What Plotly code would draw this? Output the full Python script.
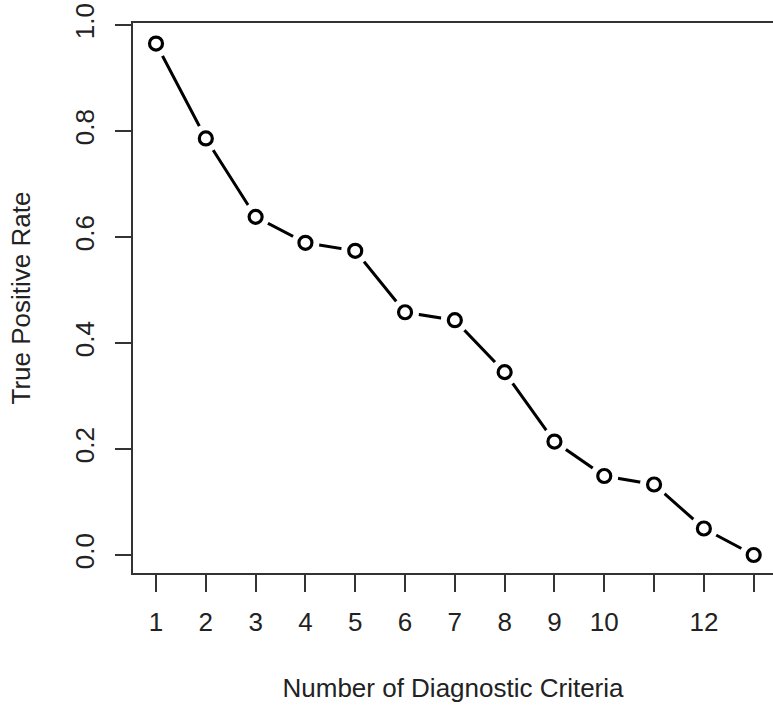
import plotly.graph_objects as go

criteria = list(range(1, 14))
tpr = [0.965, 0.786, 0.638, 0.589, 0.574, 0.458, 0.443, 0.345, 0.214, 0.149, 0.133, 0.050, 0.0]
x_tick_vals = list(range(1, 14))
x_tick_text = ["1", "2", "3", "4", "5", "6", "7", "8", "9", "10", "", "12", ""]
y_tick_vals = [0.0, 0.2, 0.4, 0.6, 0.8, 1.0]
y_tick_text = ["0.0", "0.2", "0.4", "0.6", "0.8", "1.0"]

FONT = "Liberation Sans, Arial, sans-serif"
AX = "#333333"

fig = go.Figure()
fig.add_trace(go.Scatter(x=criteria, y=tpr, mode="lines",
                         line=dict(color="black", width=3), hoverinfo="skip"))
fig.add_trace(go.Scatter(x=criteria, y=tpr, mode="markers",
                         marker=dict(symbol="circle", size=28, color="white",
                                     line=dict(width=0)), hoverinfo="skip"))
fig.add_trace(go.Scatter(x=criteria, y=tpr, mode="markers",
                         marker=dict(symbol="circle-open", size=13,
                                     color="black", line=dict(width=3.2, color="black"))))

fig.update_layout(
    width=773, height=706,
    margin=dict(l=133, r=0, t=23, b=133),
    plot_bgcolor="white", paper_bgcolor="white",
    showlegend=False,
    font=dict(family=FONT, size=26, color="#222222"),
)
fig.update_xaxes(
    range=[0.538, 13.388],
    tickvals=x_tick_vals, ticktext=x_tick_text,
    ticks="outside", ticklen=17, tickwidth=1.5, tickcolor=AX,
    showline=True, linecolor=AX, linewidth=1.5, mirror=True,
    showgrid=False, zeroline=False,
    tickfont=dict(size=26),
    ticklabelstandoff=8,
    ticklabeloverflow="allow",
    title=dict(text="Number of Diagnostic Criteria", font=dict(size=26), standoff=43),
)
fig.update_yaxes(
    range=[-0.034, 1.0038],
    tickvals=y_tick_vals, ticktext=y_tick_text,
    ticks="outside", ticklen=16, tickwidth=1.5, tickcolor=AX,
    showline=True, linecolor=AX, linewidth=1.5, mirror=False,
    showgrid=False, zeroline=False,
    tickangle=-90,
    tickfont=dict(size=26),
    ticklabelstandoff=11,
    ticklabeloverflow="allow",
    title=dict(text="True Positive Rate", font=dict(size=26), standoff=32),
)

fig.write_html("out.html",
               config={"displayModeBar": False},
               post_script="document.body.style.margin='0';document.body.style.overflow='hidden';")
